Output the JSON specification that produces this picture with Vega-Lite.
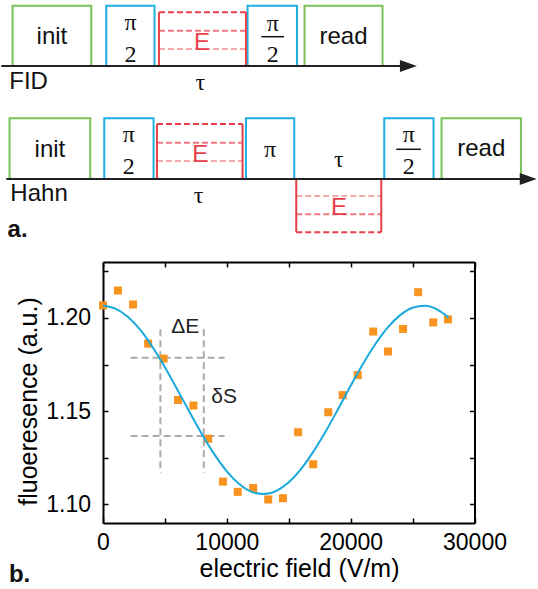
{
  "$schema": "https://vega.github.io/schema/vega-lite/v6.json",
  "padding": 0,
  "autosize": {"type": "pad"},
  "background": "white",
  "spacing": 15,
  "config": {
    "view": {"stroke": null},
    "font": "Liberation Sans",
    "axis": {
      "domainColor": "black", "domainWidth": 2, "tickColor": "black", "tickWidth": 1.5, "tickSize": -5,
      "grid": false, "labelColor": "black", "labelFont": "Liberation Sans", "labelFontSize": 23,
      "titleFont": "Liberation Sans", "titleFontSize": 25, "titleFontWeight": "normal", "titleColor": "black",
      "labelFlush": false, "labelOverlap": false
    }
  },
  "datasets": {
    "boxes": [
      {"row": "FID", "kind": "init/read", "x": 12.3, "x2": 91, "y": 5.7, "y2": 66},
      {"row": "FID", "kind": "pulse", "x": 106, "x2": 154.3, "y": 5.7, "y2": 66},
      {"row": "FID", "kind": "pulse", "x": 247.3, "x2": 296.7, "y": 5.7, "y2": 66},
      {"row": "FID", "kind": "init/read", "x": 304.3, "x2": 382.3, "y": 5.7, "y2": 66},
      {"row": "Hahn", "kind": "init/read", "x": 9.3, "x2": 90, "y": 118.3, "y2": 179},
      {"row": "Hahn", "kind": "pulse", "x": 104, "x2": 153.3, "y": 118.3, "y2": 179},
      {"row": "Hahn", "kind": "pulse", "x": 245.7, "x2": 294, "y": 118.3, "y2": 179},
      {"row": "Hahn", "kind": "pulse", "x": 384, "x2": 433.3, "y": 118.3, "y2": 179},
      {"row": "Hahn", "kind": "init/read", "x": 441.3, "x2": 520.7, "y": 118.3, "y2": 179}
    ],
    "elines": [
      {"x": 158.7, "x2": 158.7, "y": 12.3, "y2": 66, "line": "solid", "op": 1},
      {"x": 245.7, "x2": 245.7, "y": 12.3, "y2": 66, "line": "solid", "op": 1},
      {"x": 158.7, "x2": 245.7, "y": 12.3, "y2": 12.3, "line": "dashed", "op": 1},
      {"x": 158.7, "x2": 245.7, "y": 30.7, "y2": 30.7, "line": "dashed", "op": 0.7},
      {"x": 158.7, "x2": 245.7, "y": 49, "y2": 49, "line": "dashed", "op": 0.45},
      {"x": 156.7, "x2": 156.7, "y": 124, "y2": 179, "line": "solid", "op": 1},
      {"x": 242.3, "x2": 242.3, "y": 124, "y2": 179, "line": "solid", "op": 1},
      {"x": 156.7, "x2": 242.3, "y": 124, "y2": 124, "line": "dashed", "op": 1},
      {"x": 156.7, "x2": 242.3, "y": 142.7, "y2": 142.7, "line": "dashed", "op": 0.7},
      {"x": 156.7, "x2": 242.3, "y": 161, "y2": 161, "line": "dashed", "op": 0.45},
      {"x": 296, "x2": 296, "y": 179, "y2": 232.3, "line": "solid", "op": 1},
      {"x": 381, "x2": 381, "y": 179, "y2": 232.3, "line": "solid", "op": 1},
      {"x": 296, "x2": 381, "y": 196, "y2": 196, "line": "dashed", "op": 0.45},
      {"x": 296, "x2": 381, "y": 214.3, "y2": 214.3, "line": "dashed", "op": 0.7},
      {"x": 296, "x2": 381, "y": 232.3, "y2": 232.3, "line": "dashed", "op": 1}
    ],
    "timelines": [
      {"row": "FID", "x": 1, "x2": 401, "y": 66, "y2": 66},
      {"row": "Hahn", "x": 6, "x2": 521, "y": 179, "y2": 179}
    ],
    "heads": [
      {"row": "FID", "x": 408.2, "y": 66},
      {"row": "Hahn", "x": 528, "y": 179}
    ],
    "bars": [
      {"x": 261, "x2": 283.7, "y": 36.7, "y2": 36.7},
      {"x": 396, "x2": 420.7, "y": 149.3, "y2": 149.3}
    ],
    "sans": [
      {"t": "init", "x": 51.7, "y": 44},
      {"t": "read", "x": 343.3, "y": 44},
      {"t": "FID", "x": 28.3, "y": 89.3},
      {"t": "init", "x": 49.7, "y": 157.3},
      {"t": "read", "x": 481, "y": 156},
      {"t": "Hahn", "x": 38.8, "y": 200.7}
    ],
    "serif": [
      {"t": "π", "x": 130.2, "y": 30},
      {"t": "2", "x": 130.2, "y": 61.7},
      {"t": "π", "x": 272.5, "y": 30.5},
      {"t": "2", "x": 272.5, "y": 61.7},
      {"t": "τ", "x": 200, "y": 90},
      {"t": "π", "x": 128.5, "y": 141.7},
      {"t": "2", "x": 128.5, "y": 174},
      {"t": "π", "x": 269.9, "y": 157},
      {"t": "π", "x": 408.5, "y": 141.7},
      {"t": "2", "x": 408.5, "y": 174},
      {"t": "τ", "x": 198.3, "y": 203.3},
      {"t": "τ", "x": 338.5, "y": 166.7}
    ],
    "reds": [
      {"t": "E", "x": 201.7, "y": 50},
      {"t": "E", "x": 200, "y": 162.3},
      {"t": "E", "x": 338.8, "y": 214.5}
    ],
    "labelA": [{"t": "a.", "x": 7.3, "y": 236.7}],
    "guides": [
      {"x": 4635, "x2": 4635, "y": 1.1939, "y2": 1.1169},
      {"x": 8140, "x2": 8140, "y": 1.1939, "y2": 1.1169},
      {"x": 2230, "x2": 9820, "y": 1.1786, "y2": 1.1786},
      {"x": 2230, "x2": 9820, "y": 1.1366, "y2": 1.1366}
    ],
    "curve": [
      {"x": 0, "y": 1.2065}, {"x": 1000, "y": 1.2050}, {"x": 2000, "y": 1.2006}, {"x": 3000, "y": 1.1937},
      {"x": 4000, "y": 1.1844}, {"x": 5000, "y": 1.1736}, {"x": 6000, "y": 1.1616}, {"x": 7000, "y": 1.1494},
      {"x": 8000, "y": 1.1375}, {"x": 9000, "y": 1.1268}, {"x": 10000, "y": 1.1177}, {"x": 11000, "y": 1.1109},
      {"x": 12000, "y": 1.1067}, {"x": 13000, "y": 1.1055}, {"x": 14000, "y": 1.1072}, {"x": 15000, "y": 1.1118},
      {"x": 16000, "y": 1.1190}, {"x": 17000, "y": 1.1284}, {"x": 18000, "y": 1.1393}, {"x": 19000, "y": 1.1513},
      {"x": 20000, "y": 1.1636}, {"x": 21000, "y": 1.1754}, {"x": 22000, "y": 1.1860}, {"x": 23000, "y": 1.1949},
      {"x": 24000, "y": 1.2015}, {"x": 25000, "y": 1.2055}, {"x": 26000, "y": 1.2065}, {"x": 27000, "y": 1.2045},
      {"x": 27900, "y": 1.2003}
    ],
    "pts": [
      {"x": 0, "y": 1.2067}, {"x": 1207, "y": 1.2147}, {"x": 2426, "y": 1.2072}, {"x": 3645, "y": 1.1862},
      {"x": 4892, "y": 1.1782}, {"x": 6058, "y": 1.1560}, {"x": 7302, "y": 1.1530}, {"x": 8497, "y": 1.1352},
      {"x": 9684, "y": 1.1122}, {"x": 10878, "y": 1.1067}, {"x": 12122, "y": 1.1088}, {"x": 13341, "y": 1.1026},
      {"x": 14535, "y": 1.1033}, {"x": 15754, "y": 1.1387}, {"x": 16973, "y": 1.1215}, {"x": 18192, "y": 1.1494},
      {"x": 19355, "y": 1.1586}, {"x": 20574, "y": 1.1694}, {"x": 21817, "y": 1.1927}, {"x": 23011, "y": 1.1820},
      {"x": 24230, "y": 1.1941}, {"x": 25449, "y": 1.2138}, {"x": 26668, "y": 1.1976}, {"x": 27855, "y": 1.1992}
    ],
    "annot": [
      {"t": "ΔE", "x": 6640, "y": 1.1920},
      {"t": "δS", "x": 9780, "y": 1.1541}
    ],
    "labelB": [{"t": "b.", "x": -7600, "y": 1.0586}]
  },
  "vconcat": [
    {
      "width": 371,
      "height": 245,
      "layer": [
        {
          "data": {"name": "boxes"},
          "mark": {"type": "rect", "filled": false, "strokeWidth": 2},
          "encoding": {
            "x": {"field": "x", "type": "quantitative", "scale": {"domain": [102.75, 473.75], "nice": false, "zero": false}, "axis": null},
            "x2": {"field": "x2"},
            "y": {"field": "y", "type": "quantitative", "scale": {"domain": [0, 245], "reverse": true, "nice": false}, "axis": null},
            "y2": {"field": "y2"},
            "color": {"field": "kind", "type": "nominal", "scale": {"domain": ["init/read", "pulse"], "range": ["#7cc25a", "#1fb0e0"]}, "legend": null}
          }
        },
        {
          "data": {"name": "elines"},
          "mark": {"type": "rule", "strokeWidth": 2, "color": "#e8404a"},
          "encoding": {
            "x": {"field": "x", "type": "quantitative", "scale": {"domain": [102.75, 473.75], "nice": false, "zero": false}, "axis": null},
            "x2": {"field": "x2"},
            "y": {"field": "y", "type": "quantitative", "scale": {"domain": [0, 245], "reverse": true, "nice": false}, "axis": null},
            "y2": {"field": "y2"},
            "strokeDash": {"field": "line", "type": "nominal", "scale": {"domain": ["solid", "dashed"], "range": [[1, 0], [6, 3]]}, "legend": null},
            "opacity": {"field": "op", "type": "quantitative", "scale": null}
          }
        },
        {
          "data": {"name": "timelines"},
          "mark": {"type": "rule", "strokeWidth": 1.8, "color": "#222222"},
          "encoding": {
            "x": {"field": "x", "type": "quantitative", "scale": {"domain": [102.75, 473.75], "nice": false, "zero": false}, "axis": null},
            "x2": {"field": "x2"},
            "y": {"field": "y", "type": "quantitative", "scale": {"domain": [0, 245], "reverse": true, "nice": false}, "axis": null},
            "y2": {"field": "y2"}
          }
        },
        {
          "data": {"name": "bars"},
          "mark": {"type": "rule", "strokeWidth": 1.5, "color": "#111111"},
          "encoding": {
            "x": {"field": "x", "type": "quantitative", "scale": {"domain": [102.75, 473.75], "nice": false, "zero": false}, "axis": null},
            "x2": {"field": "x2"},
            "y": {"field": "y", "type": "quantitative", "scale": {"domain": [0, 245], "reverse": true, "nice": false}, "axis": null},
            "y2": {"field": "y2"}
          }
        },
        {
          "data": {"name": "heads"},
          "mark": {"type": "point", "shape": "M-1,-0.7L1,0L-1,0.7Z", "filled": true, "color": "#222222", "size": 289, "opacity": 1},
          "encoding": {
            "x": {"field": "x", "type": "quantitative", "scale": {"domain": [102.75, 473.75], "nice": false, "zero": false}, "axis": null},
            "y": {"field": "y", "type": "quantitative", "scale": {"domain": [0, 245], "reverse": true, "nice": false}, "axis": null}
          }
        },
        {
          "data": {"name": "sans"},
          "mark": {"type": "text", "font": "Liberation Sans", "fontSize": 24, "align": "center", "baseline": "alphabetic", "color": "#111111"},
          "encoding": {
            "x": {"field": "x", "type": "quantitative", "scale": {"domain": [102.75, 473.75], "nice": false, "zero": false}, "axis": null},
            "y": {"field": "y", "type": "quantitative", "scale": {"domain": [0, 245], "reverse": true, "nice": false}, "axis": null},
            "text": {"field": "t"}
          }
        },
        {
          "data": {"name": "serif"},
          "mark": {"type": "text", "font": "Liberation Serif", "fontSize": 24, "align": "center", "baseline": "alphabetic", "color": "#111111"},
          "encoding": {
            "x": {"field": "x", "type": "quantitative", "scale": {"domain": [102.75, 473.75], "nice": false, "zero": false}, "axis": null},
            "y": {"field": "y", "type": "quantitative", "scale": {"domain": [0, 245], "reverse": true, "nice": false}, "axis": null},
            "text": {"field": "t"}
          }
        },
        {
          "data": {"name": "reds"},
          "mark": {"type": "text", "font": "Liberation Sans", "fontSize": 24, "align": "center", "baseline": "alphabetic", "color": "#e8404a"},
          "encoding": {
            "x": {"field": "x", "type": "quantitative", "scale": {"domain": [102.75, 473.75], "nice": false, "zero": false}, "axis": null},
            "y": {"field": "y", "type": "quantitative", "scale": {"domain": [0, 245], "reverse": true, "nice": false}, "axis": null},
            "text": {"field": "t"}
          }
        },
        {
          "data": {"name": "labelA"},
          "mark": {"type": "text", "font": "Liberation Sans", "fontSize": 24, "fontWeight": "bold", "align": "left", "baseline": "alphabetic", "color": "#111111"},
          "encoding": {
            "x": {"field": "x", "type": "quantitative", "scale": {"domain": [102.75, 473.75], "nice": false, "zero": false}, "axis": null},
            "y": {"field": "y", "type": "quantitative", "scale": {"domain": [0, 245], "reverse": true, "nice": false}, "axis": null},
            "text": {"field": "t"}
          }
        }
      ]
    },
    {
      "width": 371.5,
      "height": 261,
      "resolve": {"axis": {"x": "independent", "y": "independent"}},
      "layer": [
        {
          "data": {"name": "guides"},
          "mark": {"type": "rule", "strokeWidth": 2, "color": "#ababab", "strokeDash": [7, 4]},
          "encoding": {
            "x": {"field": "x", "type": "quantitative", "scale": {"domain": [0, 30000], "nice": false}, "axis": null},
            "x2": {"field": "x2"},
            "y": {"field": "y", "type": "quantitative", "scale": {"domain": [1.09, 1.23], "nice": false, "zero": false}, "axis": null},
            "y2": {"field": "y2"}
          }
        },
        {
          "data": {"name": "pts"},
          "mark": {"type": "square", "size": 64, "color": "#f7931e", "opacity": 1},
          "encoding": {
            "x": {
              "field": "x", "type": "quantitative", "scale": {"domain": [0, 30000], "nice": false},
              "axis": {
                "orient": "bottom", "values": [0, 5000, 10000, 15000, 20000, 25000, 30000], "format": "d",
                "labelExpr": "datum.value % 10000 === 0 ? datum.label : ''", "labelPadding": 13,
                "title": "electric field (V/m)", "titleX": 196, "titleY": 53, "titleBaseline": "alphabetic"
              }
            },
            "y": {
              "field": "y", "type": "quantitative", "scale": {"domain": [1.09, 1.23], "nice": false, "zero": false},
              "axis": {
                "orient": "left", "values": [1.1, 1.125, 1.15, 1.175, 1.2, 1.225],
                "labelExpr": "round(datum.value * 1000) % 50 === 0 ? format(datum.value, '.2f') : ''", "labelPadding": 17.5,
                "title": "fluoeresence (a.u.)", "titleX": -66.75, "titleY": 139, "titleBaseline": "alphabetic", "titleAngle": 270
              }
            }
          }
        },
        {
          "data": {"name": "curve"},
          "mark": {"type": "line", "strokeWidth": 2, "color": "#1aa9dc", "interpolate": "monotone"},
          "encoding": {
            "x": {
              "field": "x", "type": "quantitative", "scale": {"domain": [0, 30000], "nice": false},
              "axis": {"orient": "top", "values": [0, 5000, 10000, 15000, 20000, 25000, 30000], "labels": false, "title": null}
            },
            "y": {
              "field": "y", "type": "quantitative", "scale": {"domain": [1.09, 1.23], "nice": false, "zero": false},
              "axis": {"orient": "right", "values": [1.1, 1.125, 1.15, 1.175, 1.2, 1.225], "labels": false, "title": null}
            }
          }
        },
        {
          "data": {"name": "annot"},
          "mark": {"type": "text", "font": "Liberation Sans", "fontSize": 21, "align": "center", "baseline": "alphabetic", "color": "#222222"},
          "encoding": {
            "x": {"field": "x", "type": "quantitative", "scale": {"domain": [0, 30000], "nice": false}, "axis": null},
            "y": {"field": "y", "type": "quantitative", "scale": {"domain": [1.09, 1.23], "nice": false, "zero": false}, "axis": null},
            "text": {"field": "t"}
          }
        },
        {
          "data": {"name": "labelB"},
          "mark": {"type": "text", "font": "Liberation Sans", "fontSize": 24, "fontWeight": "bold", "align": "left", "baseline": "alphabetic", "color": "#111111"},
          "encoding": {
            "x": {"field": "x", "type": "quantitative", "scale": {"domain": [0, 30000], "nice": false}, "axis": null},
            "y": {"field": "y", "type": "quantitative", "scale": {"domain": [1.09, 1.23], "nice": false, "zero": false}, "axis": null},
            "text": {"field": "t"}
          }
        }
      ]
    }
  ]
}
